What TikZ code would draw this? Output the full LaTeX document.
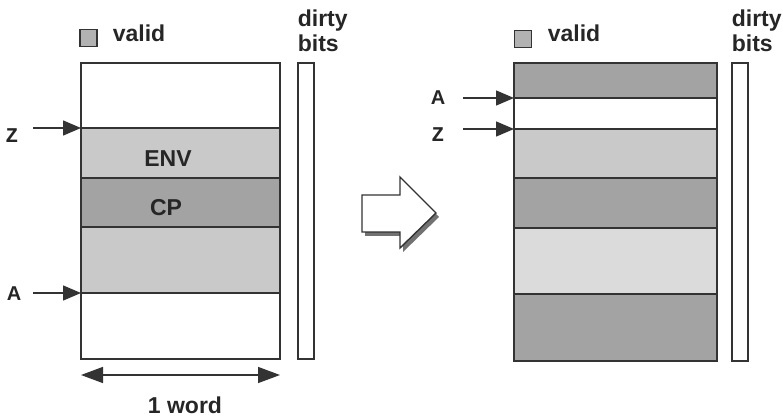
\documentclass[tikz,border=0pt]{standalone}
\usepackage{fontspec}
\setmainfont{Liberation Sans}
\setmonofont{Liberation Mono}
\usetikzlibrary{arrows.meta}
\definecolor{validlight}{gray}{0.79}
\definecolor{validdark}{gray}{0.64}
\definecolor{validpale}{gray}{0.86}
\definecolor{validkey}{gray}{0.70}
\definecolor{inkgray}{gray}{0.2}

\begin{document}
\begin{tikzpicture}[x=1pt,y=-1pt,inkgray,line width=1.6pt,
    txt/.style={black!85,font=\fontsize{23}{25}\selectfont\bfseries},
    reg/.style={font=\fontsize{20}{22}\selectfont\bfseries,black!85},
    ptr/.style={-{Triangle[length=18pt,width=15pt]},line width=1.5pt}]
			\useasboundingbox (0,0) rectangle (783,419);
			% stack before
			\draw[fill=white] (81,63) rectangle (280,359);
			\draw[fill=validlight] (81,128) rectangle (280,178);
			\draw[fill=validdark] (81,178) rectangle (280,227);
			\draw[fill=validlight] (81,227) rectangle (280,293);
			\draw[fill=white] (298,63) rectangle (314,359);
			\node[txt] (env) at (168,159) {ENV};
			\node[txt] (cp) at (166,208) {CP};
			\node[draw,fill=validkey,minimum size=17pt,inner sep=0pt,line width=1.4pt] (keyL) at (88.5,38) {};
			\node[txt,anchor=base west,inner sep=0pt] (validL) at (112,42) {valid};
			\node[txt,anchor=base west,inner sep=0pt] (dirtyL) at (297,27) {dirty};
			\node[txt,anchor=base west,inner sep=0pt] (bitsL) at (297,52) {bits};
			\coordinate (zL) at (81,128);
			\coordinate (aL) at (81,293);
			\node[reg,font=\fontsize{21}{23}\selectfont\ttfamily\bfseries] (zlblL) at (12,136) {Z};
			\node[reg] (albL) at (14,294) {A};
			\draw[ptr] (33,128) -- (zL);
			\draw[ptr] (33,293) -- (aL);
			\coordinate (wl) at (81,375);
			\coordinate (wr) at (280,375);
			\draw[{Triangle[length=22pt,width=16pt]}-{Triangle[length=22pt,width=16pt]},line width=1.5pt] (wl) -- (wr);
			\node[txt,anchor=base,inner sep=0pt] (word) at (185,413) {1 word};
			% block arrow with shadow
			\fill[validdark!70!black] (365,199) -- (403,199) -- (403,181) -- (439,217) -- (403,252) -- (403,236) -- (365,236) -- cycle;
			\draw[fill=white,line width=1.4pt] (362,195) -- (400,195) -- (400,177) -- (436,213) -- (400,248) -- (400,232) -- (362,232) -- cycle;
			% stack after
			\draw[fill=white] (514,63) rectangle (717,361);
			\draw[fill=validdark] (514,63) rectangle (717,98);
			\draw[fill=validlight] (514,129) rectangle (717,178);
			\draw[fill=validdark] (514,178) rectangle (717,228);
			\draw[fill=validpale] (514,228) rectangle (717,294);
			\draw[fill=validdark] (514,294) rectangle (717,361);
			\draw[fill=white] (732,63) rectangle (748,361);
			\node[draw,fill=validkey,minimum size=17pt,inner sep=0pt,line width=1.4pt] (keyR) at (523,39) {};
			\node[txt,anchor=base west,inner sep=0pt] (validR) at (547,42) {valid};
			\node[txt,anchor=base west,inner sep=0pt] (dirtyR) at (731,27) {dirty};
			\node[txt,anchor=base west,inner sep=0pt] (bitsR) at (731,52) {bits};
			\coordinate (aR) at (514,98);
			\coordinate (zR) at (514,129);
			\node[reg] (albR) at (438,98) {A};
			\node[reg,font=\fontsize{21}{23}\selectfont\ttfamily\bfseries] (zlblR) at (438,135) {Z};
			\draw[ptr] (463,98) -- (aR);
			\draw[ptr] (463,129) -- (zR);
		\end{tikzpicture}
\end{document}
